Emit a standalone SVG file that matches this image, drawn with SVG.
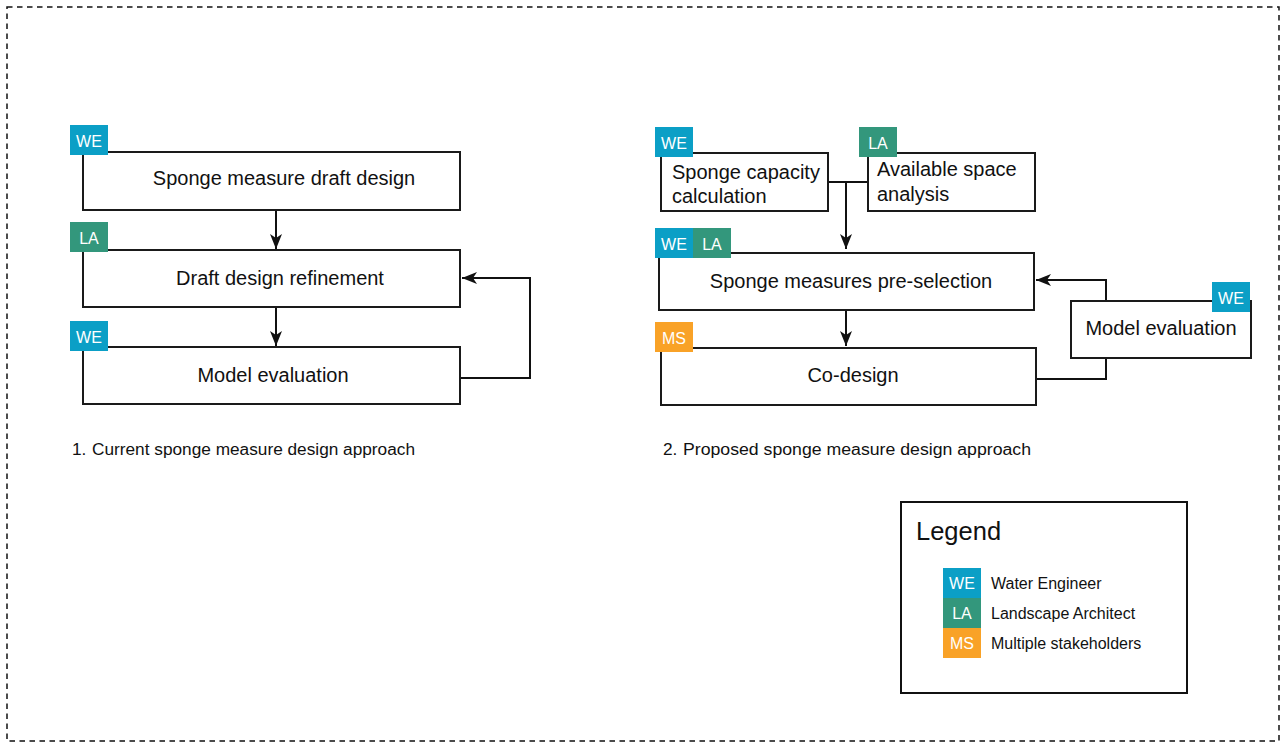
<svg xmlns="http://www.w3.org/2000/svg" width="1284" height="743" viewBox="0 0 1284 743">
<style>
.box{fill:#fff;stroke:#1a1a1a;stroke-width:2}
.t{font-family:"Liberation Sans",Arial,sans-serif;font-size:20px;fill:#111}
.bt{font-family:"Liberation Sans",Arial,sans-serif;font-size:16px;fill:#fff;text-anchor:middle}
.cap{font-family:"Liberation Sans",Arial,sans-serif;font-size:17.3px;fill:#111}
.lg{font-family:"Liberation Sans",Arial,sans-serif;font-size:16px;fill:#111}
.we{fill:#0b9fc6}
.la{fill:#33977c}
.ms{fill:#f9a227}
.c{fill:none;stroke:#111;stroke-width:2}
</style>
<defs>
<marker id="ah" markerUnits="userSpaceOnUse" markerWidth="16" markerHeight="16" viewBox="0 0 16 16" refX="15" refY="8" orient="auto">
<path d="M0,2 L15,8 L0,14 L4,8 z" fill="#111"/>
</marker>
</defs>
<rect x="7" y="7" width="1272" height="734" fill="none" stroke="#111" stroke-width="1.5" stroke-dasharray="5.5 4.5"/>

<g id="connectors">
<line class="c" x1="276" y1="210" x2="276" y2="249" marker-end="url(#ah)"/>
<line class="c" x1="276" y1="307" x2="276" y2="346" marker-end="url(#ah)"/>
<polyline class="c" points="460,378 530,378 530,278 462,278" marker-end="url(#ah)"/>
<line class="c" x1="828" y1="182" x2="868" y2="182"/>
<line class="c" x1="846" y1="182" x2="846" y2="249" marker-end="url(#ah)"/>
<line class="c" x1="846" y1="310" x2="846" y2="346" marker-end="url(#ah)"/>
<polyline class="c" points="1036,379 1106,379 1106,358"/>
<polyline class="c" points="1106,301 1106,280 1036,280" marker-end="url(#ah)"/>
</g>

<g id="n-draft">
<rect class="box" x="83" y="152" width="377" height="58"/>
<text class="t" x="284" y="185" text-anchor="middle">Sponge measure draft design</text>
<rect class="we" x="70" y="125" width="38" height="30"/><text class="bt" x="89" y="147">WE</text>
</g>
<g id="n-refine">
<rect class="box" x="83" y="250" width="377" height="57"/>
<text class="t" x="280" y="285" text-anchor="middle">Draft design refinement</text>
<rect class="la" x="70" y="222" width="38" height="30"/><text class="bt" x="89" y="244">LA</text>
</g>
<g id="n-model1">
<rect class="box" x="83" y="347" width="377" height="57"/>
<text class="t" x="273" y="382" text-anchor="middle">Model evaluation</text>
<rect class="we" x="70" y="321" width="38" height="30"/><text class="bt" x="89" y="343">WE</text>
</g>
<text class="cap" x="72" y="455">1.</text>
<text class="cap" x="92" y="455" textLength="323" lengthAdjust="spacingAndGlyphs">Current sponge measure design approach</text>

<g id="n-capacity">
<rect class="box" x="661" y="153" width="167" height="58"/>
<text class="t" x="672" y="179">Sponge capacity</text>
<text class="t" x="672" y="203">calculation</text>
<rect class="we" x="655" y="127" width="38" height="30"/><text class="bt" x="674" y="149">WE</text>
</g>
<g id="n-space">
<rect class="box" x="868" y="153" width="167" height="58"/>
<text class="t" x="877" y="176">Available space</text>
<text class="t" x="877" y="201">analysis</text>
<rect class="la" x="859" y="127" width="38" height="30"/><text class="bt" x="878" y="149">LA</text>
</g>
<g id="n-preselect">
<rect class="box" x="659" y="253" width="375" height="57"/>
<text class="t" x="851" y="288" text-anchor="middle">Sponge measures pre-selection</text>
<rect class="we" x="655" y="228" width="38" height="30"/><text class="bt" x="674" y="250">WE</text>
<rect class="la" x="693" y="228" width="38" height="30"/><text class="bt" x="712" y="250">LA</text>
</g>
<g id="n-codesign">
<rect class="box" x="661" y="348" width="375" height="57"/>
<text class="t" x="853" y="382" text-anchor="middle">Co-design</text>
<rect class="ms" x="655" y="322" width="38" height="30"/><text class="bt" x="674" y="344">MS</text>
</g>
<g id="n-model2">
<rect class="box" x="1071" y="301" width="180" height="57"/>
<text class="t" x="1161" y="335" text-anchor="middle">Model evaluation</text>
<rect class="we" x="1212" y="282" width="38" height="30"/><text class="bt" x="1231" y="304">WE</text>
</g>
<text class="cap" x="663" y="455">2.</text>
<text class="cap" x="683" y="455" textLength="348" lengthAdjust="spacingAndGlyphs">Proposed sponge measure design approach</text>

<g id="legend">
<rect x="901" y="502" width="286" height="191" fill="#fff" stroke="#111" stroke-width="2"/>
<text x="916" y="540" font-family="Liberation Sans, Arial, sans-serif" font-size="25.5" fill="#111">Legend</text>
<rect class="we" x="943" y="568" width="38" height="30"/><text class="bt" x="962" y="589">WE</text>
<rect class="la" x="943" y="598" width="38" height="30"/><text class="bt" x="962" y="619">LA</text>
<rect class="ms" x="943" y="628" width="38" height="30"/><text class="bt" x="962" y="649">MS</text>
<text class="lg" x="991" y="589">Water Engineer</text>
<text class="lg" x="991" y="619">Landscape Architect</text>
<text class="lg" x="991" y="649">Multiple stakeholders</text>
</g>
</svg>
